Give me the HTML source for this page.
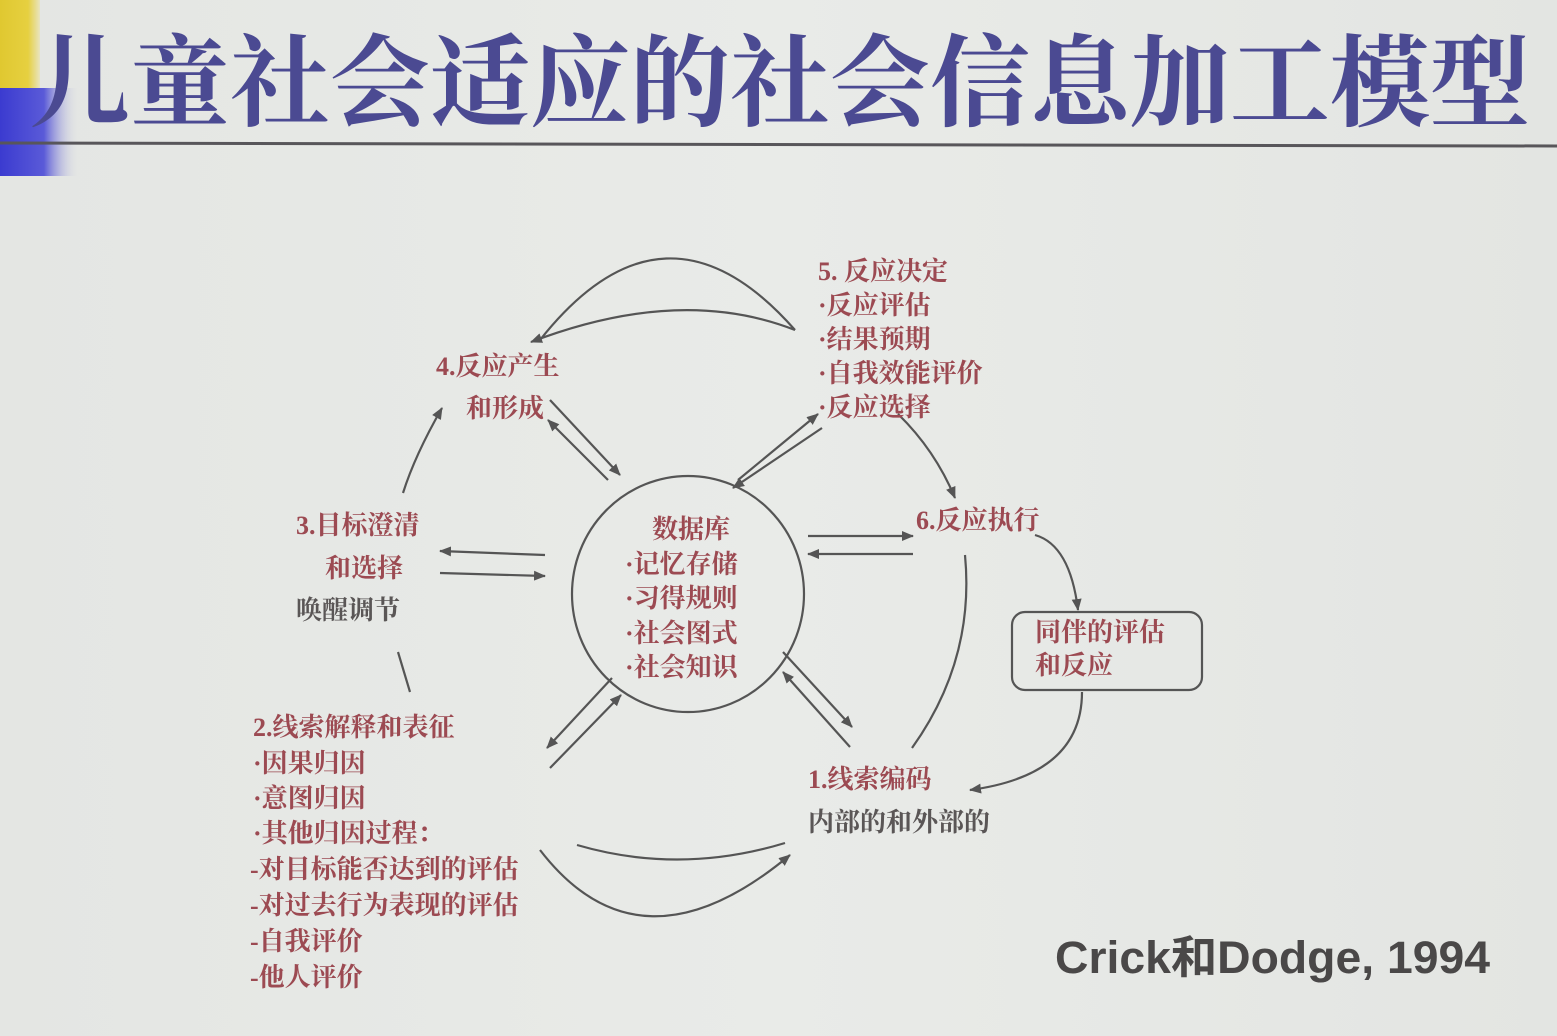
<!DOCTYPE html>
<html><head><meta charset="utf-8"><style>
html,body{margin:0;padding:0;}
body{width:1557px;height:1036px;overflow:hidden;background:linear-gradient(90deg,#e4e6e3 0%,#e9ebe8 50%,#e3e5e2 100%);}
svg{display:block}
.t{font-family:"Liberation Serif","Noto Serif CJK SC",serif;font-weight:bold;font-size:26px;fill:#9c4a52;}
.g{fill:#5a5656;}
</style></head><body>
<svg width="1557" height="1036" viewBox="0 0 1557 1036" xmlns="http://www.w3.org/2000/svg">
<defs>
<linearGradient id="bl" x1="0" x2="1"><stop offset="0" stop-color="#3b3bd0"/><stop offset="0.55" stop-color="#5a5ad8"/><stop offset="1" stop-color="#e4e6e3" stop-opacity="0"/></linearGradient>
<linearGradient id="yl" x1="0" x2="1"><stop offset="0" stop-color="#e0c830"/><stop offset="0.7" stop-color="#e6d040"/><stop offset="1" stop-color="#e8e4c0"/></linearGradient>
<marker id="a" markerWidth="12" markerHeight="10" refX="11" refY="5" orient="auto" markerUnits="userSpaceOnUse"><path d="M0,0 L12,5 L0,10 Z" fill="#555"/></marker>
</defs>
<rect x="0" y="0" width="40" height="88" fill="url(#yl)"/>
<rect x="0" y="88" width="80" height="88" fill="url(#bl)"/>
<line x1="0" y1="143" x2="1557" y2="146" stroke="#58565a" stroke-width="3"/>
<text x="30" y="118" font-family="'Liberation Serif','Noto Serif CJK SC',serif" font-weight="bold" font-size="100" fill="#4b4a92" textLength="1500" lengthAdjust="spacing">儿童社会适应的社会信息加工模型</text>

<g fill="none" stroke="#555" stroke-width="2.2">
<ellipse cx="688" cy="594" rx="116" ry="118"/>
<path d="M540,340 Q665,182 795,330"/>
<path d="M795,330 Q680,285 531,342" marker-end="url(#a)"/>
<path d="M577,845 Q680,875 785,843"/>
<path d="M540,850 Q640,980 790,855" marker-end="url(#a)"/>
<path d="M403,493 Q415,455 442,408" marker-end="url(#a)"/>
<path d="M398,652 L410,692"/>
<path d="M898,414 Q935,450 955,498" marker-end="url(#a)"/>
<path d="M1035,535 Q1070,545 1078,610" marker-end="url(#a)"/>
<path d="M1082,692 Q1082,775 970,790" marker-end="url(#a)"/>
<path d="M912,748 Q975,660 965,555"/>
<rect x="1012" y="612" width="190" height="78" rx="13"/>
<line x1="550" y1="400" x2="620" y2="475" marker-end="url(#a)"/>
<line x1="608" y1="480" x2="548" y2="420" marker-end="url(#a)"/>
<line x1="738" y1="480" x2="818" y2="414" marker-end="url(#a)"/>
<line x1="822" y1="428" x2="733" y2="488" marker-end="url(#a)"/>
<line x1="545" y1="555" x2="440" y2="551" marker-end="url(#a)"/>
<line x1="440" y1="573" x2="545" y2="576" marker-end="url(#a)"/>
<line x1="808" y1="536" x2="913" y2="536" marker-end="url(#a)"/>
<line x1="913" y1="554" x2="808" y2="554" marker-end="url(#a)"/>
<line x1="550" y1="768" x2="621" y2="695" marker-end="url(#a)"/>
<line x1="612" y1="678" x2="547" y2="748" marker-end="url(#a)"/>
<line x1="783" y1="652" x2="852" y2="727" marker-end="url(#a)"/>
<line x1="850" y1="747" x2="783" y2="672" marker-end="url(#a)"/>
</g>

<text class="t" x="818" y="280">5. 反应决定</text>
<text class="t" x="818" y="314">·反应评估</text>
<text class="t" x="818" y="348">·结果预期</text>
<text class="t" x="818" y="382">·自我效能评价</text>
<text class="t" x="818" y="416">·反应选择</text>
<text class="t" x="436" y="375">4.反应产生</text>
<text class="t" x="466" y="417">和形成</text>
<text class="t" x="296" y="534">3.目标澄清</text>
<text class="t" x="325" y="577">和选择</text>
<text class="t g" x="296" y="619">唤醒调节</text>
<text class="t" x="652" y="538">数据库</text>
<text class="t" x="625" y="573">·记忆存储</text>
<text class="t" x="625" y="607">·习得规则</text>
<text class="t" x="625" y="642">·社会图式</text>
<text class="t" x="625" y="676">·社会知识</text>
<text class="t" x="916" y="529">6.反应执行</text>
<text class="t" x="1035" y="641">同伴的评估</text>
<text class="t" x="1035" y="674">和反应</text>
<text class="t" x="808" y="788">1.线索编码</text>
<text class="t g" x="808" y="831">内部的和外部的</text>
<text class="t" x="253" y="736">2.线索解释和表征</text>
<text class="t" x="253" y="772">·因果归因</text>
<text class="t" x="253" y="807">·意图归因</text>
<text class="t" x="253" y="842">·其他归因过程：</text>
<text class="t" x="250" y="878">-对目标能否达到的评估</text>
<text class="t" x="250" y="914">-对过去行为表现的评估</text>
<text class="t" x="250" y="950">-自我评价</text>
<text class="t" x="250" y="986">-他人评价</text>
<text x="1055" y="973" font-family="'Liberation Sans','Noto Sans CJK SC',sans-serif" font-weight="bold" font-size="45" fill="#4a4848" textLength="435" lengthAdjust="spacingAndGlyphs">Crick和Dodge, 1994</text>
</svg>
</body></html>
